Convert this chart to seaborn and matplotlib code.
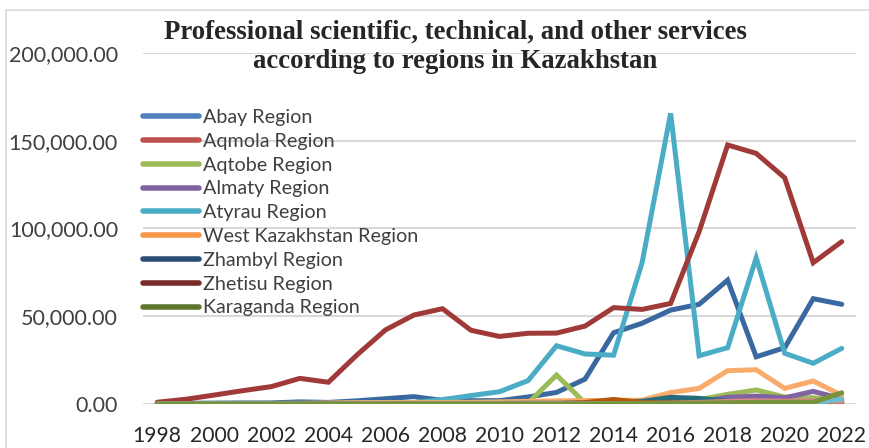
import numpy as np
import pandas as pd
import matplotlib
matplotlib.use("Agg")
import matplotlib.pyplot as plt
from matplotlib.lines import Line2D
from matplotlib.ticker import FuncFormatter
import seaborn as sns

years = list(range(1998, 2023))

abay = [300, 400, 500, 600, 600, 1200, 900, 1800, 3000, 4200, 2000, 1900, 1900,
        4000, 6600, 14200, 40600, 46000, 53500, 56800, 70600, 26900, 32100, 60000, 56800]
aqmola = [200, 200, 200, 200, 200, 300, 300, 300, 400, 400, 400, 400, 500,
          500, 500, 600, 800, 900, 1200, 1800, 2300, 2800, 2500, 3300, 2000]
aqtobe = [0, 0, 0, 0, 0, 0, 0, 0, 0, 0, 0, 0, 0,
          500, 16500, 500, 300, 400, 1000, 2500, 5500, 8000, 4000, 3500, 2500]
almaty = [0, 0, 0, 0, 0, 0, 0, 0, 0, 0, 0, 0, 0,
          0, 0, 0, 200, 300, 500, 1500, 3800, 4500, 3500, 7200, 3000]
atyrau = [0, 0, 0, 0, 0, 0, 200, 300, 500, 800, 2500, 4800, 7000,
          13300, 33200, 28500, 27800, 80500, 165600, 27500, 32100, 83300, 28900, 23200, 31700]
west_kaz = [300, 300, 300, 300, 300, 400, 600, 800, 800, 900, 900, 1000, 1200,
            1500, 1800, 2000, 2000, 2200, 6500, 8900, 19000, 19500, 8900, 13100, 5000]
zhambyl = [100, 100, 100, 100, 100, 100, 200, 200, 200, 300, 300, 300, 300,
           400, 400, 500, 600, 800, 1200, 1000, 1200, 1500, 1300, 1500, 1200]
zhetisu = [1000, 2700, 5100, 7600, 9900, 14600, 12400, 27900, 42200, 50700, 54300, 42000, 38500,
           40300, 40400, 44400, 54900, 53900, 57300, 98200, 147600, 142800, 128900, 80500, 92500]
karaganda = [0, 0, 0, 0, 0, 0, 0, 0, 0, 0, 0, 0, 0,
             0, 0, 0, 100, 200, 300, 500, 700, 900, 1000, 1000, 6400]
kostanay = [0, 0, 0, 0, 0, 0, 0, 0, 0, 0, 0, 0, 0,
            0, 0, 300, 800, 1500, 3800, 3200, 1500, 1200, 1000, 1200, 1000]
kyzylorda = [0, 0, 0, 0, 0, 0, 0, 0, 0, 0, 0, 0, 0,
             0, 200, 800, 2600, 800, 600, 600, 700, 800, 700, 800, 600]
mangystau = [0, 0, 0, 0, 0, 0, 0, 0, 0, 0, 0, 0, 0,
             0, 0, 0, 200, 300, 500, 900, 1500, 1800, 1600, 2000, 1500]
pavlodar = [0, 0, 0, 0, 0, 0, 0, 0, 0, 0, 0, 0, 0,
            0, 0, 0, 0, 0, 0, 0, 0, 100, 300, 600, 2800]

legend_names = ["Abay Region", "Aqmola Region", "Aqtobe Region", "Almaty Region",
                "Atyrau Region", "West Kazakhstan Region", "Zhambyl Region",
                "Zhetisu Region", "Karaganda Region"]
legend_colors = ["#4F81BD", "#C0504D", "#9BBB59", "#8064A2", "#4BACC6",
                 "#F79646", "#2C4D75", "#772C2A", "#5F7530"]

series = [
    ("Abay Region", abay, "#3A68A0"),
    ("Aqmola Region", aqmola, "#CD7371"),
    ("Aqtobe Region", aqtobe, "#9BBB59"),
    ("Almaty Region", almaty, "#8064A2"),
    ("Atyrau Region", atyrau, "#4BACC6"),
    ("West Kazakhstan Region", west_kaz, "#F9AB6B"),
    ("Zhambyl Region", zhambyl, "#2C4D75"),
    ("Zhetisu Region", zhetisu, "#A03A38"),
    ("Kostanay Region", kostanay, "#276A7C"),
    ("Kyzylorda Region", kyzylorda, "#B65708"),
    ("Mangystau Region", mangystau, "#D98A88"),
    ("Pavlodar Region", pavlodar, "#6FBDD1"),
    ("Karaganda Region", karaganda, "#77933C"),
]

sns.set_theme(style="white")
plt.rcParams["font.family"] = ["Lato", "DejaVu Sans"]

fig = plt.figure(figsize=(8.69, 4.48), dpi=100)
ax = fig.add_axes([143 / 869, 1 - 404 / 448, (856 - 143) / 869, (404 - 53) / 448])

for name, vals, col in series:
    df = pd.DataFrame({"year": years, "value": vals})
    sns.lineplot(data=df, x="year", y="value", color=col, linewidth=3.6,
                 ax=ax, legend=False, solid_joinstyle="miter", solid_capstyle="round")

ax.set_xlim(1997.5, 2022.5)
ax.set_ylim(0, 200000)
ax.set_yticks([0, 50000, 100000, 150000, 200000])
ax.set_xticks(years[::2])
ax.yaxis.set_major_formatter(FuncFormatter(lambda v, p: f"{v:,.2f}"))
ax.grid(axis="y", color="#D9D9D9", linewidth=1.5)
ax.grid(axis="x", visible=False)
ax.set_axisbelow(True)
for s in ax.spines.values():
    s.set_visible(False)
ax.tick_params(axis="y", length=0, pad=18, labelsize=15.5, labelcolor="#404040")
ax.tick_params(axis="x", length=0, pad=16, labelsize=15.2, labelcolor="#262626")
ax.set_xlabel("")
ax.set_ylabel("")

handles = [Line2D([0], [0], color=c, linewidth=4, solid_capstyle="round") for c in legend_colors]
fig.legend(handles, legend_names, loc="upper left",
           bbox_to_anchor=(143 / 869, 1 - 109 / 448), frameon=False,
           fontsize=14.2, handlelength=2.85, handletextpad=0.2,
           labelspacing=0.345, borderpad=0, borderaxespad=0,
           labelcolor="#404040")

fig.text(455 / 869, 1 - 47 / 448,
         "Professional scientific, technical, and other services\naccording to regions in Kazakhstan",
         ha="center", va="center", fontsize=19.3, fontweight="bold",
         family=["Liberation Serif", "DejaVu Serif"], color="#262626", linespacing=1.25)

fig.add_artist(Line2D([6 / 869, 6 / 869], [0, 1 - 10 / 448], transform=fig.transFigure,
                      color="#D9D9D9", linewidth=1.2))
fig.add_artist(Line2D([6 / 869, 1], [1 - 10 / 448, 1 - 10 / 448], transform=fig.transFigure,
                      color="#D9D9D9", linewidth=1.2))

fig.savefig("out.png", dpi=100)
